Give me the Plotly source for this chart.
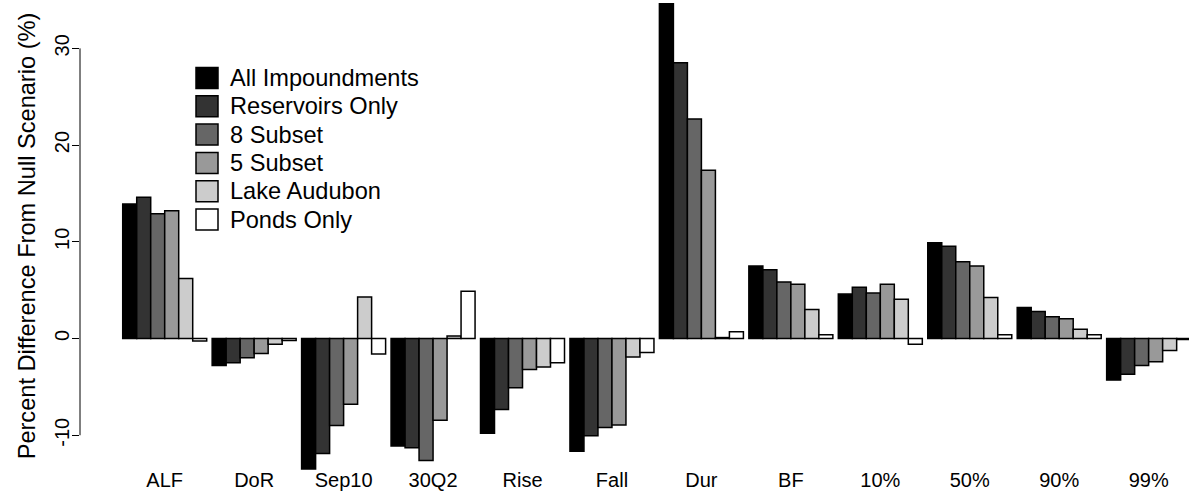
import plotly.graph_objects as go

categories = ["ALF", "DoR", "Sep10", "30Q2", "Rise", "Fall", "Dur", "BF", "10%", "50%", "90%", "99%"]

series_names = ["All Impoundments", "Reservoirs Only", "8 Subset", "5 Subset", "Lake Audubon", "Ponds Only"]
series_colors = ["#000000", "#333333", "#666666", "#999999", "#cccccc", "#ffffff"]

all_impoundments = [13.9, -2.8, -13.5, -11.1, -9.8, -11.65, 34.6, 7.5, 4.6, 9.9, 3.2, -4.3]
reservoirs_only = [14.6, -2.5, -11.9, -11.3, -7.35, -10.05, 28.5, 7.1, 5.3, 9.55, 2.8, -3.7]
subset_8 = [12.9, -2.0, -9.0, -12.6, -5.1, -9.2, 22.7, 5.85, 4.7, 7.95, 2.25, -2.8]
subset_5 = [13.2, -1.55, -6.8, -8.45, -3.2, -8.95, 17.4, 5.6, 5.6, 7.5, 2.05, -2.4]
lake_audubon = [6.2, -0.6, 4.3, 0.25, -2.95, -1.9, 0.1, 3.0, 4.05, 4.25, 0.95, -1.25]
ponds_only = [-0.25, -0.2, -1.6, 4.9, -2.5, -1.45, 0.7, 0.4, -0.6, 0.4, 0.4, -0.1]

series_values = [all_impoundments, reservoirs_only, subset_8, subset_5, lake_audubon, ponds_only]

y_ticks = [-10, 0, 10, 20, 30]
y_tick_labels = ["-10", "0", "10", "20", "30"]

FONT = "Liberation Sans, Arial, sans-serif"
W, H = 1189, 494
ML, MR, MT, MB = 80, 0, 0, 22
PW, PH = W - ML - MR, H - MT - MB

fig = go.Figure()
for name, color, vals in zip(series_names, series_colors, series_values):
    fig.add_trace(go.Bar(
        x=categories, y=vals, name=name,
        marker=dict(color=color, line=dict(color="#000000", width=1.5)),
        showlegend=False,
    ))

# custom legend (large square keys like the original)
leg_x0 = (196 - ML) / PW
leg_x1 = (218 - ML) / PW
leg_text_x = (228 - ML) / PW
for i, (name, color) in enumerate(zip(series_names, series_colors)):
    cy = 78 + 28.3 * i
    y0 = 1 - (cy + 10.5) / PH
    y1 = 1 - (cy - 10.5) / PH
    fig.add_shape(type="rect", xref="paper", yref="paper",
                  x0=leg_x0, x1=leg_x1, y0=y0, y1=y1,
                  fillcolor=color, line=dict(color="#000000", width=1.5))
    fig.add_annotation(xref="paper", yref="paper", x=leg_text_x, y=1 - cy / PH,
                       text=name, showarrow=False, xanchor="left", yanchor="middle",
                       font=dict(family=FONT, size=23.6, color="#000000"))

# R-style y axis line spanning only the tick range
fig.add_shape(type="line", xref="paper", yref="y", x0=0, x1=0,
              y0=min(y_ticks), y1=max(y_ticks),
              line=dict(color="#000000", width=1))

fig.update_layout(
    width=W, height=H,
    margin=dict(l=ML, r=MR, t=MT, b=MB, pad=0),
    paper_bgcolor="#ffffff", plot_bgcolor="#ffffff",
    barmode="group", bargap=0.061, bargroupgap=0,
    font=dict(family=FONT, color="#000000"),
    xaxis=dict(type="category", range=[-0.947, 11.451], showgrid=False, zeroline=False,
               showline=False, ticks="", ticklabelstandoff=-6,
               tickfont=dict(size=20, family=FONT, color="#000000"),
               fixedrange=True),
    yaxis=dict(range=[-13.8, 35.0], showgrid=False, zeroline=False, showline=False,
               tickmode="array", tickvals=y_ticks, ticktext=y_tick_labels,
               ticks="outside", ticklen=7, tickwidth=1, tickcolor="#000000",
               ticklabelstandoff=-5,
               tickangle=-90, tickfont=dict(size=20, family=FONT, color="#000000"),
               title=dict(text="Percent Difference From Null Scenario (%)",
                          font=dict(size=23.6, family=FONT, color="#000000"), standoff=8),
               fixedrange=True),
)

fig.write_html("out.html")
